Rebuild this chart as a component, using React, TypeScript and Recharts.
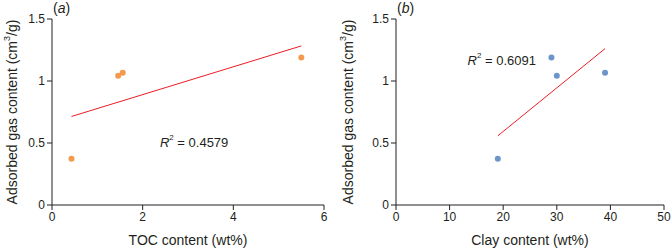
import React from 'react';
import {
    ScatterChart, Scatter, XAxis, YAxis, ReferenceDot, Label
} from 'recharts';

// panel (a): TOC vs adsorbed gas
const tocContent = [0.43, 1.46, 1.56, 5.5];
const gasA = [0.372, 1.043, 1.067, 1.19];
const trendTocX = [0.43, 5.5];
const trendTocY = [0.714, 1.283];

// panel (b): clay vs adsorbed gas
const clayContent = [19, 29, 30, 39];
const gasB = [0.372, 1.19, 1.043, 1.067];
const trendClayX = [19, 39];
const trendClayY = [0.558, 1.261];

const tocTicks = [0, 2, 4, 6];
const clayTicks = [0, 10, 20, 30, 40, 50];
const gasTicks = [0, 0.5, 1, 1.5];

const FONT = '"Liberation Sans", Arial, Helvetica, sans-serif';
const INK = '#231f20';

const zip = (xs: number[], ys: number[]) => xs.map((x, i) => ({ x, y: ys[i] }));

const YTitle = (props: any) => {
    const vb = props.viewBox || {};
    const cy = (vb.y ?? 19) + (vb.height ?? 186) / 2;
    const cx = 12;
    return (
        <text x={cx} y={cy} transform={`rotate(-90, ${cx}, ${cy})`} textAnchor="middle" dominantBaseline="central"
            fontFamily={FONT} fontSize={14} fill={INK}>
            <tspan>Adsorbed gas content (cm</tspan>
            <tspan fontSize={9} dy={-5}>3</tspan>
            <tspan dy={5}>/g)</tspan>
        </text>
    );
};

const XTitle = (text: string) => (props: any) => {
    const vb = props.viewBox || {};
    const cx = (vb.x ?? 0) + (vb.width ?? 0) / 2;
    return (
        <text x={cx} y={(vb.y ?? 205) + 40} textAnchor="middle" fontFamily={FONT} fontSize={14} fill={INK}>
            {text}
        </text>
    );
};

const R2 = (value: string) => (props: any) => (
    <text x={props.cx} y={props.cy} dominantBaseline="central" fontFamily={FONT} fontSize={13} fill={INK}>
        <tspan fontStyle="italic">R</tspan>
        <tspan fontSize={8} dy={-5}>2</tspan>
        <tspan dy={5}> = {value}</tspan>
    </text>
);

const Dot = (color: string) => (props: any) => (
    <circle cx={props.cx} cy={props.cy} r={3} fill={color} />
);

interface PanelProps {
    letter: string;
    points: { x: number; y: number }[];
    trend: { x: number; y: number }[];
    color: string;
    xTicks: number[];
    xTitle: string;
    yWidth: number;
    rightMargin: number;
    r2: string;
    r2At: { x: number; y: number };
}

const Panel: React.FC<PanelProps> = ({ letter, points, trend, color, xTicks, xTitle, yWidth, rightMargin, r2, r2At }) => (
    <div style={{ position: 'relative', width: 336, height: 249 }}>
        <div style={{ position: 'absolute', left: yWidth + 1, top: 0, fontFamily: FONT, fontSize: 14, color: INK, lineHeight: '16px' }}>
            (<i>{letter}</i>)
        </div>
        <ScatterChart width={336} height={249} margin={{ top: 19, right: rightMargin, bottom: 14, left: 0 }}>
            <XAxis type="number" dataKey="x" domain={[xTicks[0], xTicks[xTicks.length - 1]]} ticks={xTicks}
                height={30} tickSize={5} axisLine={{ stroke: INK }} tickLine={{ stroke: INK }}
                tick={{ fill: INK, fontSize: 12, fontFamily: FONT }}>
                <Label content={XTitle(xTitle)} />
            </XAxis>
            <YAxis type="number" dataKey="y" domain={[0, 1.5]} ticks={gasTicks} width={yWidth}
                tickSize={5} axisLine={{ stroke: INK }} tickLine={{ stroke: INK }}
                tick={{ fill: INK, fontSize: 12, fontFamily: FONT }}>
                <Label content={YTitle} />
            </YAxis>
            <Scatter data={trend} line={{ stroke: '#ec1c24', strokeWidth: 1 }} shape={() => null} isAnimationActive={false} />
            <Scatter data={points} shape={Dot(color)} isAnimationActive={false} />
            <ReferenceDot x={r2At.x} y={r2At.y} r={0} shape={R2(r2)} />
        </ScatterChart>
    </div>
);

export default function App() {
    return (
        <div style={{ position: 'absolute', left: 0, top: 0, width: 672, height: 249, display: 'flex', background: '#fff' }}>
            <Panel letter="a" points={zip(tocContent, gasA)} trend={zip(trendTocX, trendTocY)} color="#f39a4c"
                xTicks={tocTicks} xTitle="TOC content (wt%)" yWidth={52} rightMargin={12}
                r2="0.4579" r2At={{ x: 2.38, y: 0.51 }} />
            <Panel letter="b" points={zip(clayContent, gasB)} trend={zip(trendClayX, trendClayY)} color="#6c95c9"
                xTicks={clayTicks} xTitle="Clay content (wt%)" yWidth={60} rightMargin={8}
                r2="0.6091" r2At={{ x: 13.36, y: 1.172 }} />
        </div>
    );
}
